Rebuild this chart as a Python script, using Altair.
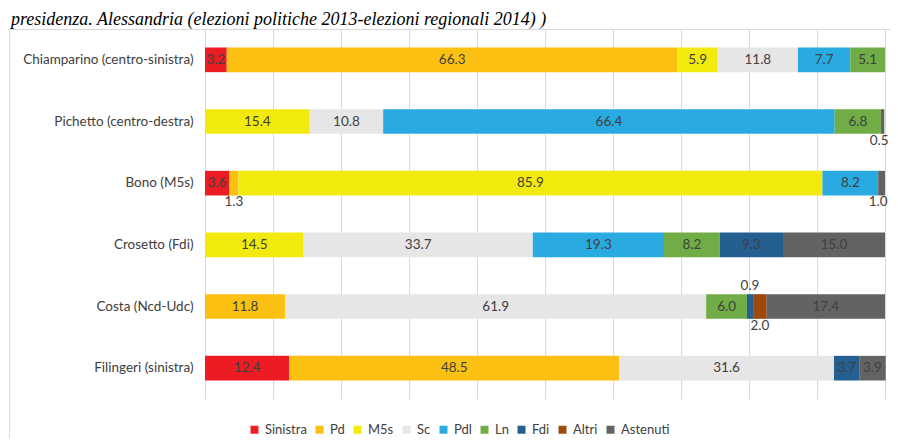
import altair as alt
import pandas as pd

title_text = "presidenza. Alessandria (elezioni politiche 2013-elezioni regionali 2014) )"

candidates = [
    "Chiamparino (centro-sinistra)",
    "Pichetto (centro-destra)",
    "Bono (M5s)",
    "Crosetto (Fdi)",
    "Costa (Ncd-Udc)",
    "Filingeri (sinistra)",
]
parties = ["Sinistra", "Pd", "M5s", "Sc", "Pdl", "Ln", "Fdi", "Altri", "Astenuti"]
colors = ["#ED1C24", "#FCC012", "#F2EA0D", "#E6E6E6", "#29ABE2",
          "#70AD47", "#255E91", "#9E480E", "#636363"]

# shares (%) for each candidate, in party order (0 = no segment)
chiamparino = [3.2, 66.3, 5.9, 11.8, 7.7, 5.1, 0, 0, 0]
pichetto = [0, 0, 15.4, 10.8, 66.4, 6.8, 0, 0, 0.5]
bono = [3.6, 1.3, 85.9, 0, 8.2, 0, 0, 0, 1.0]
crosetto = [0, 0, 14.5, 33.7, 19.3, 8.2, 9.3, 0, 15.0]
costa = [0, 11.8, 0, 61.9, 0, 6.0, 0.9, 2.0, 17.4]
filingeri = [12.4, 48.5, 0, 31.6, 0, 0, 3.7, 0, 3.9]

series = [chiamparino, pichetto, bono, crosetto, costa, filingeri]

rows = []
for cand, vals in zip(candidates, series):
    acc = 0.0
    for i, (p, v) in enumerate(zip(parties, vals)):
        if v <= 0:
            continue
        rows.append({"candidate": cand, "party": p, "order": i, "value": v,
                     "start": acc, "end": acc + v, "mid": acc + v / 2})
        acc += v
df = pd.DataFrame(rows)

# small segments get their label outside the bar
above_set = {("Costa (Ncd-Udc)", "Fdi")}
def place(r):
    if r["value"] >= 2.5:
        return "in"
    if (r["candidate"], r["party"]) in above_set:
        return "above"
    return "below_edge" if r["mid"] > 98 else "below"
df["place"] = df.apply(place, axis=1)

FONT = "Lato"
FS = 13.5
TXT = "#404040"

yenc = alt.Y("candidate:N", sort=candidates,
             scale=alt.Scale(paddingInner=0.6, paddingOuter=0.3),
             axis=alt.Axis(title=None, ticks=False, domain=False, labelPadding=12,
                           labelFont=FONT, labelFontSize=FS, labelColor=TXT))

bars = alt.Chart(df).mark_bar().encode(
    x=alt.X("start:Q", scale=alt.Scale(domain=[0, 100], nice=False),
            axis=alt.Axis(values=list(range(0, 101, 10)), grid=True, labels=False,
                          ticks=False, domain=False, title=None,
                          gridColor="#d9d9d9", gridWidth=1)),
    x2="end:Q",
    y=yenc,
    color=alt.Color("party:N", sort=parties,
                    scale=alt.Scale(domain=parties, range=colors),
                    legend=alt.Legend(title=None, orient="none", legendX=43, legendY=394,
                                      direction="horizontal", columns=9,
                                      symbolType="square", symbolSize=64,
                                      symbolStrokeWidth=0, labelFont=FONT,
                                      labelFontSize=13, labelColor=TXT,
                                      labelOffset=4, columnPadding=6, padding=0)),
    order=alt.Order("order:Q"),
)

def labels(place, dy, align="center", dx=0):
    return alt.Chart(df).transform_filter(alt.datum.place == place).mark_text(
        font=FONT, fontSize=FS, color=TXT, baseline="middle", align=align,
        dy=dy, dx=dx
    ).encode(
        x=alt.X("mid:Q"),
        y=alt.Y("candidate:N", sort=candidates),
        text=alt.Text("value:Q", format=".1f"),
    )

one = pd.DataFrame({"t": [title_text]})
frame_top = alt.Chart(one).mark_rule(color="#d9d9d9", strokeWidth=1).encode(
    x=alt.value(-200), x2=alt.value(700), y=alt.value(0.5))
frame_left = alt.Chart(one).mark_rule(color="#d9d9d9", strokeWidth=1).encode(
    x=alt.value(-195.5), y=alt.value(0.5), y2=alt.value(420))
title = alt.Chart(one).mark_text(align="left", baseline="alphabetic",
                                 font="Liberation Serif", fontStyle="italic",
                                 fontSize=18, color="#000000").encode(
    x=alt.value(-194), y=alt.value(-4), text="t:N")

chart = alt.layer(
    frame_top, frame_left, title, bars,
    labels("in", 0), labels("below", 19), labels("below_edge", 19, "right", 6),
    labels("above", -21),
).properties(
    width=680, height=370,
    padding={"left": 197, "top": 21, "right": 5, "bottom": 39},
    autosize=alt.AutoSizeParams(type="none"),
    background="white",
).configure_view(stroke=None)

chart.save("out.html", embed_options={"renderer": "svg", "actions": False})
